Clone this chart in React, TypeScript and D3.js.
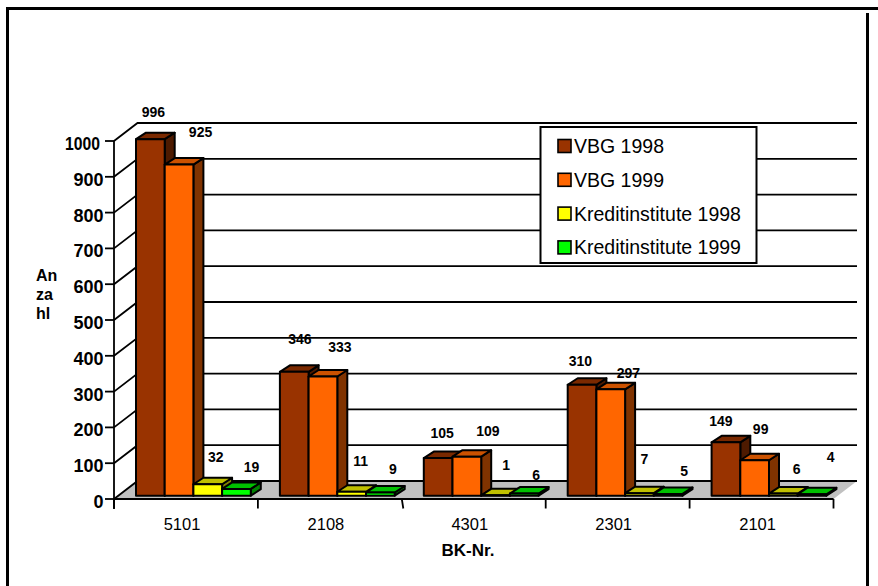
import * as d3 from "d3";

const width = 878;
const height = 586;

const categories = ["5101", "2108", "4301", "2301", "2101"];
const seriesNames = ["VBG 1998", "VBG 1999", "Kreditinstitute 1998", "Kreditinstitute 1999"];
const vbg1998 = [996, 346, 105, 310, 149];
const vbg1999 = [925, 333, 109, 297, 99];
const kredit1998 = [32, 11, 1, 7, 6];
const kredit1999 = [19, 9, 6, 5, 4];
const seriesValues = [vbg1998, vbg1999, kredit1998, kredit1999];
const yTicks = [0, 100, 200, 300, 400, 500, 600, 700, 800, 900, 1000];

// front, top, side
const seriesColors = [
  ["#993300", "#7a2900", "#4d1a00"],
  ["#ff6600", "#cc5200", "#803300"],
  ["#ffff00", "#c0c000", "#808000"],
  ["#00ff00", "#00c000", "#008000"],
];

// the value labels are scattered by hand in the original, [dx, dy] from the bar top
const labelNudge = [
  [[3, -27], [21.5, -32.6], [8, -27], [15, -22]],
  [[5.6, -33], [17, -29.5], [9, -31], [12.5, -23.5]],
  [[4, -25], [21, -26], [10.6, -30], [12, -18.5]],
  [[-1.6, -24], [17.7, -16], [5, -34], [16, -23]],
  [[-5, -21], [6, -31], [13.4, -24.5], [18.7, -37]],
];

const font = "'Liberation Sans', Arial, sans-serif";
const plot = { left: 114, right: 833.5, bottom: 499, top: 141 };
const wall = { dx: 23.5, dy: -18 }; // offset of the back wall
const bar = { dx: 10, dy: -6.5, base: 495.7 }; // depth of one bar

const x = d3.scaleBand().domain(categories).range([plot.left, plot.right]);
const xSeries = d3.scaleBand().domain(seriesNames).range([22, 22 + 114.8]);
const y = d3.scaleLinear().domain([0, 1000]).range([plot.bottom, plot.top]);
const poly = d3.line();

const App = () => {
  const barH = (v: number) => y(0) - y(v);

  return (
    <svg
      width={width}
      height={height}
      style={{ position: "absolute", left: 0, top: 0, background: "#fff" }}
      fontFamily={font}
    >
      {/* outer frame */}
      <path d={`M7.5 ${height}V8.5H${width}`} fill="none" stroke="#000" strokeWidth={3} />
      <line x1={867.5} x2={867.5} y1={13} y2={height} stroke="#000" strokeWidth={3} />

      {/* floor */}
      <path
        d={poly([
          [plot.left, plot.bottom],
          [plot.left + wall.dx, plot.bottom + wall.dy],
          [plot.right + wall.dx, plot.bottom + wall.dy],
          [plot.right, plot.bottom],
        ])!}
        fill="#c0c0c0"
      />

      {/* grid on side and back wall */}
      {yTicks.map((t) => (
        <path
          key={t}
          d={poly([
            [plot.left, y(t)],
            [plot.left + wall.dx, y(t) + wall.dy],
            [plot.right + wall.dx, y(t) + wall.dy],
          ])!}
          fill="none"
          stroke="#000"
          strokeWidth={1.8}
        />
      ))}

      {/* y axis */}
      <line x1={plot.left} x2={plot.left} y1={plot.top} y2={plot.bottom + 10} stroke="#000" strokeWidth={1.8} />
      {yTicks.map((t) => (
        <g key={t}>
          <line x1={plot.left - 9} x2={plot.left} y1={y(t)} y2={y(t)} stroke="#000" strokeWidth={1.8} />
          <text
            x={t === 1000 ? 100 : 103.5}
            y={y(t) + 2.5}
            dy="0.36em"
            textAnchor="end"
            fontSize={18}
            fontWeight="bold"
            textLength={t === 1000 ? 35 : undefined}
            lengthAdjust="spacingAndGlyphs"
            fill="#000"
          >
            {t}
          </text>
        </g>
      ))}

      {/* x axis */}
      <line x1={plot.left} x2={plot.right} y1={plot.bottom} y2={plot.bottom} stroke="#000" strokeWidth={2.2} />
      {[...categories.map((c) => x(c)!), plot.right].map((t, i) => (
        <line
          key={i}
          x1={t}
          x2={i === 2 ? t + 1.5 : t}
          y1={plot.bottom}
          y2={plot.bottom + 9.5}
          stroke="#000"
          strokeWidth={1.8}
        />
      ))}
      {categories.map((c) => (
        <text
          key={c}
          x={x(c)! + 68}
          y={524}
          dy="0.36em"
          textAnchor="middle"
          fontSize={16.5}
          fill="#000"
        >
          {c}
        </text>
      ))}

      {/* bars, painted left to right so later ones cover the side of earlier ones */}
      {categories.map((c, ci) =>
        seriesNames.map((s, si) => {
          const v = seriesValues[si][ci];
          const x0 = x(c)! + xSeries(s)!;
          const x1 = x0 + xSeries.bandwidth();
          const yBase = bar.base;
          const yTop = yBase - barH(v);
          const [front, top, side] = seriesColors[si];
          return (
            <g key={s} stroke="#000" strokeWidth={2} strokeLinejoin="round">
              <path
                d={poly([[x1, yBase], [x1 + bar.dx, yBase + bar.dy], [x1 + bar.dx, yTop + bar.dy], [x1, yTop]])! + "Z"}
                fill={side}
              />
              <path
                d={poly([[x0, yTop], [x0 + bar.dx, yTop + bar.dy], [x1 + bar.dx, yTop + bar.dy], [x1, yTop]])! + "Z"}
                fill={top}
              />
              <rect x={x0} y={yTop} width={x1 - x0} height={yBase - yTop} fill={front} />
            </g>
          );
        })
      )}

      {/* value labels */}
      {categories.map((c, ci) =>
        seriesNames.map((s, si) => {
          const v = seriesValues[si][ci];
          const cx = x(c)! + xSeries(s)! + xSeries.bandwidth() / 2;
          const yTop = bar.base - barH(v);
          const [dx, dy] = labelNudge[ci][si];
          return (
            <text
              key={s}
              x={cx + dx}
              y={yTop + dy}
              dy="0.36em"
              textAnchor="middle"
              fontSize={14}
              fontWeight="bold"
              fill="#000"
            >
              {v}
            </text>
          );
        })
      )}

      {/* y title, wrapped as in the original */}
      {["An", "za", "hl"].map((t, i) => (
        <text key={t} x={36} y={275 + i * 19} dy="0.36em" fontSize={16} fontWeight="bold" fill="#000">
          {t}
        </text>
      ))}
      <text x={468} y={550} dy="0.36em" textAnchor="middle" fontSize={17} fontWeight="bold" fill="#000">
        BK-Nr.
      </text>

      {/* legend */}
      <rect x={540.5} y={127} width={216} height={136} fill="#fff" stroke="#000" strokeWidth={2} />
      {seriesNames.map((s, i) => {
        const ly = 146 + i * 33.8;
        return (
          <g key={s}>
            <rect x={558} y={ly - 6.5} width={13} height={13} fill={seriesColors[i][0]} stroke="#000" strokeWidth={1.6} />
            <text x={574} y={ly} dy="0.36em" fontSize={19.5} fill="#000">
              {s}
            </text>
          </g>
        );
      })}
    </svg>
  );
};

export default App;
